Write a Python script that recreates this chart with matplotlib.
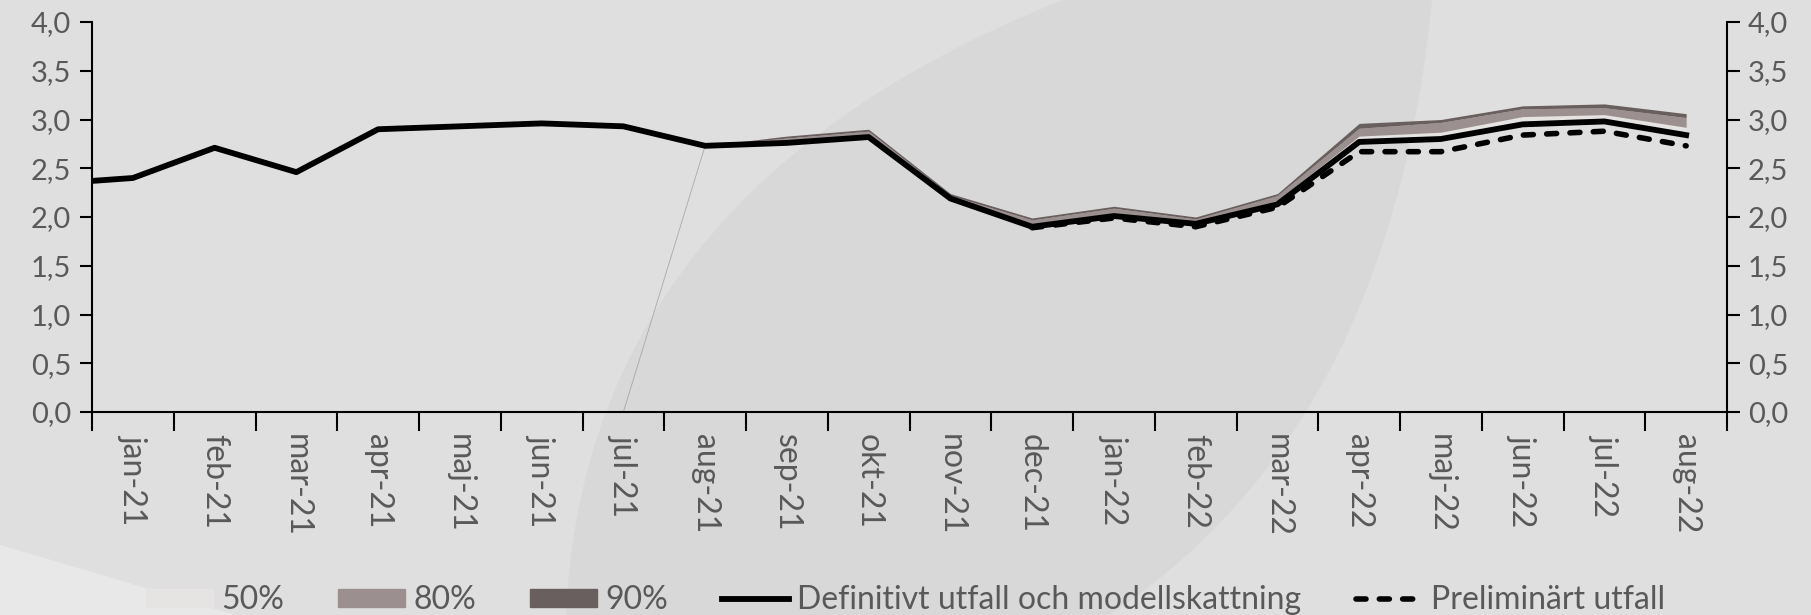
import numpy as np
import matplotlib
matplotlib.use("Agg")
import matplotlib.pyplot as plt
from matplotlib.patches import Patch, Polygon
from matplotlib.lines import Line2D


months = ['jan-21', 'feb-21', 'mar-21', 'apr-21', 'maj-21', 'jun-21', 'jul-21',
          'aug-21', 'sep-21', 'okt-21', 'nov-21', 'dec-21', 'jan-22', 'feb-22',
          'mar-22', 'apr-22', 'maj-22', 'jun-22', 'jul-22', 'aug-22']

# value for dec-20, only the piece inside the axis shows
dec20 = 2.34
definitivt = [2.40, 2.71, 2.46, 2.90, 2.93, 2.96, 2.93, 2.73, 2.76, 2.82,
              2.19, 1.90, 2.01, 1.93, 2.13, 2.77, 2.80, 2.95, 2.98, 2.84]
nan = np.nan
preliminart = [nan] * 11 + [1.89, 1.99, 1.90, 2.10, 2.67, 2.67, 2.84, 2.88, 2.73]

# stacked fan: invisible base, then the band widths
base = [nan] * 6 + [0.0, 2.73, 2.75, 2.81, 2.18, 1.90, 2.00, 1.92, 2.12, 2.76, 2.79, 2.94, 2.97, 2.84]
w50 = [nan] * 6 + [0, 0, 0.02, 0.03, 0.02, 0.03, 0.04, 0.03, 0.05, 0.07, 0.08, 0.09, 0.08, 0.08]
w80 = [nan] * 6 + [0, 0, 0.04, 0.04, 0.02, 0.04, 0.05, 0.03, 0.05, 0.08, 0.10, 0.08, 0.07, 0.10]
w90 = [nan] * 6 + [0, 0, 0.02, 0.02, 0.02, 0.02, 0.02, 0.02, 0.02, 0.05, 0.03, 0.03, 0.04, 0.04]

c50, c80, c90 = '#e6e3e3', '#9b8f8f', '#6a5f5f'
txt = '#595959'
bg = '#e0dfdf'
dash = (0, (1.8, 2.4))

plt.rcParams['font.family'] = ['Lato', 'DejaVu Sans']

fig = plt.figure(figsize=(18.11, 6.15), dpi=100)
fig.patch.set_facecolor(bg)

# background swoosh
back = fig.add_axes([0, 0, 1, 1], zorder=-1)
back.set_xlim(0, 1811)
back.set_ylim(615, 0)
back.axis('off')


def bez(p0, p1, p2, n=60):
    t = np.linspace(0, 1, n)[:, None]
    return (1 - t) ** 2 * np.array(p0) + 2 * (1 - t) * t * np.array(p1) + t ** 2 * np.array(p2)


left_edge = bez((566, 615), (585, 190), (1063, 0))
right_edge = bez((1432, 0), (1390, 430), (1109, 615))
back.add_patch(Polygon(np.vstack([left_edge, right_edge]), closed=True, color='#d8d8d8', lw=0))
corner = bez((0, 545), (120, 580), (235, 615))
back.add_patch(Polygon(np.vstack([corner, [[0, 615]]]), closed=True, color='#e8e8e8', lw=0))

ax = fig.add_axes([92 / 1811, 1 - 412 / 615, (1727 - 92) / 1811, (412 - 22) / 615])
ax.set_facecolor('none')

x = np.arange(len(months))
b = np.array(base)
l1 = b + np.array(w50)
l2 = l1 + np.array(w80)
l3 = l2 + np.array(w90)

ax.plot(x, b, color='#a8a8a8', lw=0.6, zorder=1)
ax.fill_between(x, b, l1, color=c50, lw=0, zorder=2)
ax.fill_between(x, l1, l2, color=c80, lw=0, zorder=2)
ax.fill_between(x, l2, l3, color=c90, lw=0, zorder=2)

ax.plot(np.r_[-1, x], [dec20] + definitivt, color='black', lw=4.2,
        solid_joinstyle='round', zorder=4)
ax.plot(x, preliminart, color='black', lw=4.0, ls=dash,
        dash_capstyle='round', zorder=3)

ax.set_xlim(-0.5, len(months) - 0.5)
ax.set_ylim(0, 4)
ax.set_yticks(np.arange(0, 4.01, 0.5))
ax.set_yticklabels([f'{v:.1f}'.replace('.', ',') for v in np.arange(0, 4.01, 0.5)])
ax.tick_params(axis='y', direction='out', length=9, width=1.5, colors='black',
               labelcolor=txt, labelsize=21, left=True, right=True,
               labelleft=True, labelright=True, pad=6)

ax.set_xticks(np.arange(-0.5, len(months), 1.0))
ax.set_xticklabels([])
ax.set_xticks(x, minor=True)
ax.set_xticklabels(months, minor=True, rotation=-90, va='top', ha='center')
ax.tick_params(axis='x', which='major', direction='out', length=14, width=1.5)
ax.tick_params(axis='x', which='minor', length=0, pad=16, labelsize=23, labelcolor=txt)

ax.spines['top'].set_visible(False)
for s in ['left', 'right', 'bottom']:
    ax.spines[s].set_linewidth(1.5)

handles = [Patch(color=c50), Patch(color=c80), Patch(color=c90),
           Line2D([], [], color='black', lw=4.2),
           Line2D([], [], color='black', lw=4.0, ls=dash, dash_capstyle='round')]
labels = ['50%', '80%', '90%', 'Definitivt utfall och modellskattning', 'Preliminärt utfall']
fig.legend(handles, labels, ncol=5, loc='center', bbox_to_anchor=(0.5, 1 - 600 / 615),
           frameon=False, fontsize=23, labelcolor=txt, handlelength=2.1,
           handleheight=0.5, handletextpad=0.25, columnspacing=1.7, borderaxespad=0)

fig.savefig('out.png', dpi=100, facecolor=bg)
